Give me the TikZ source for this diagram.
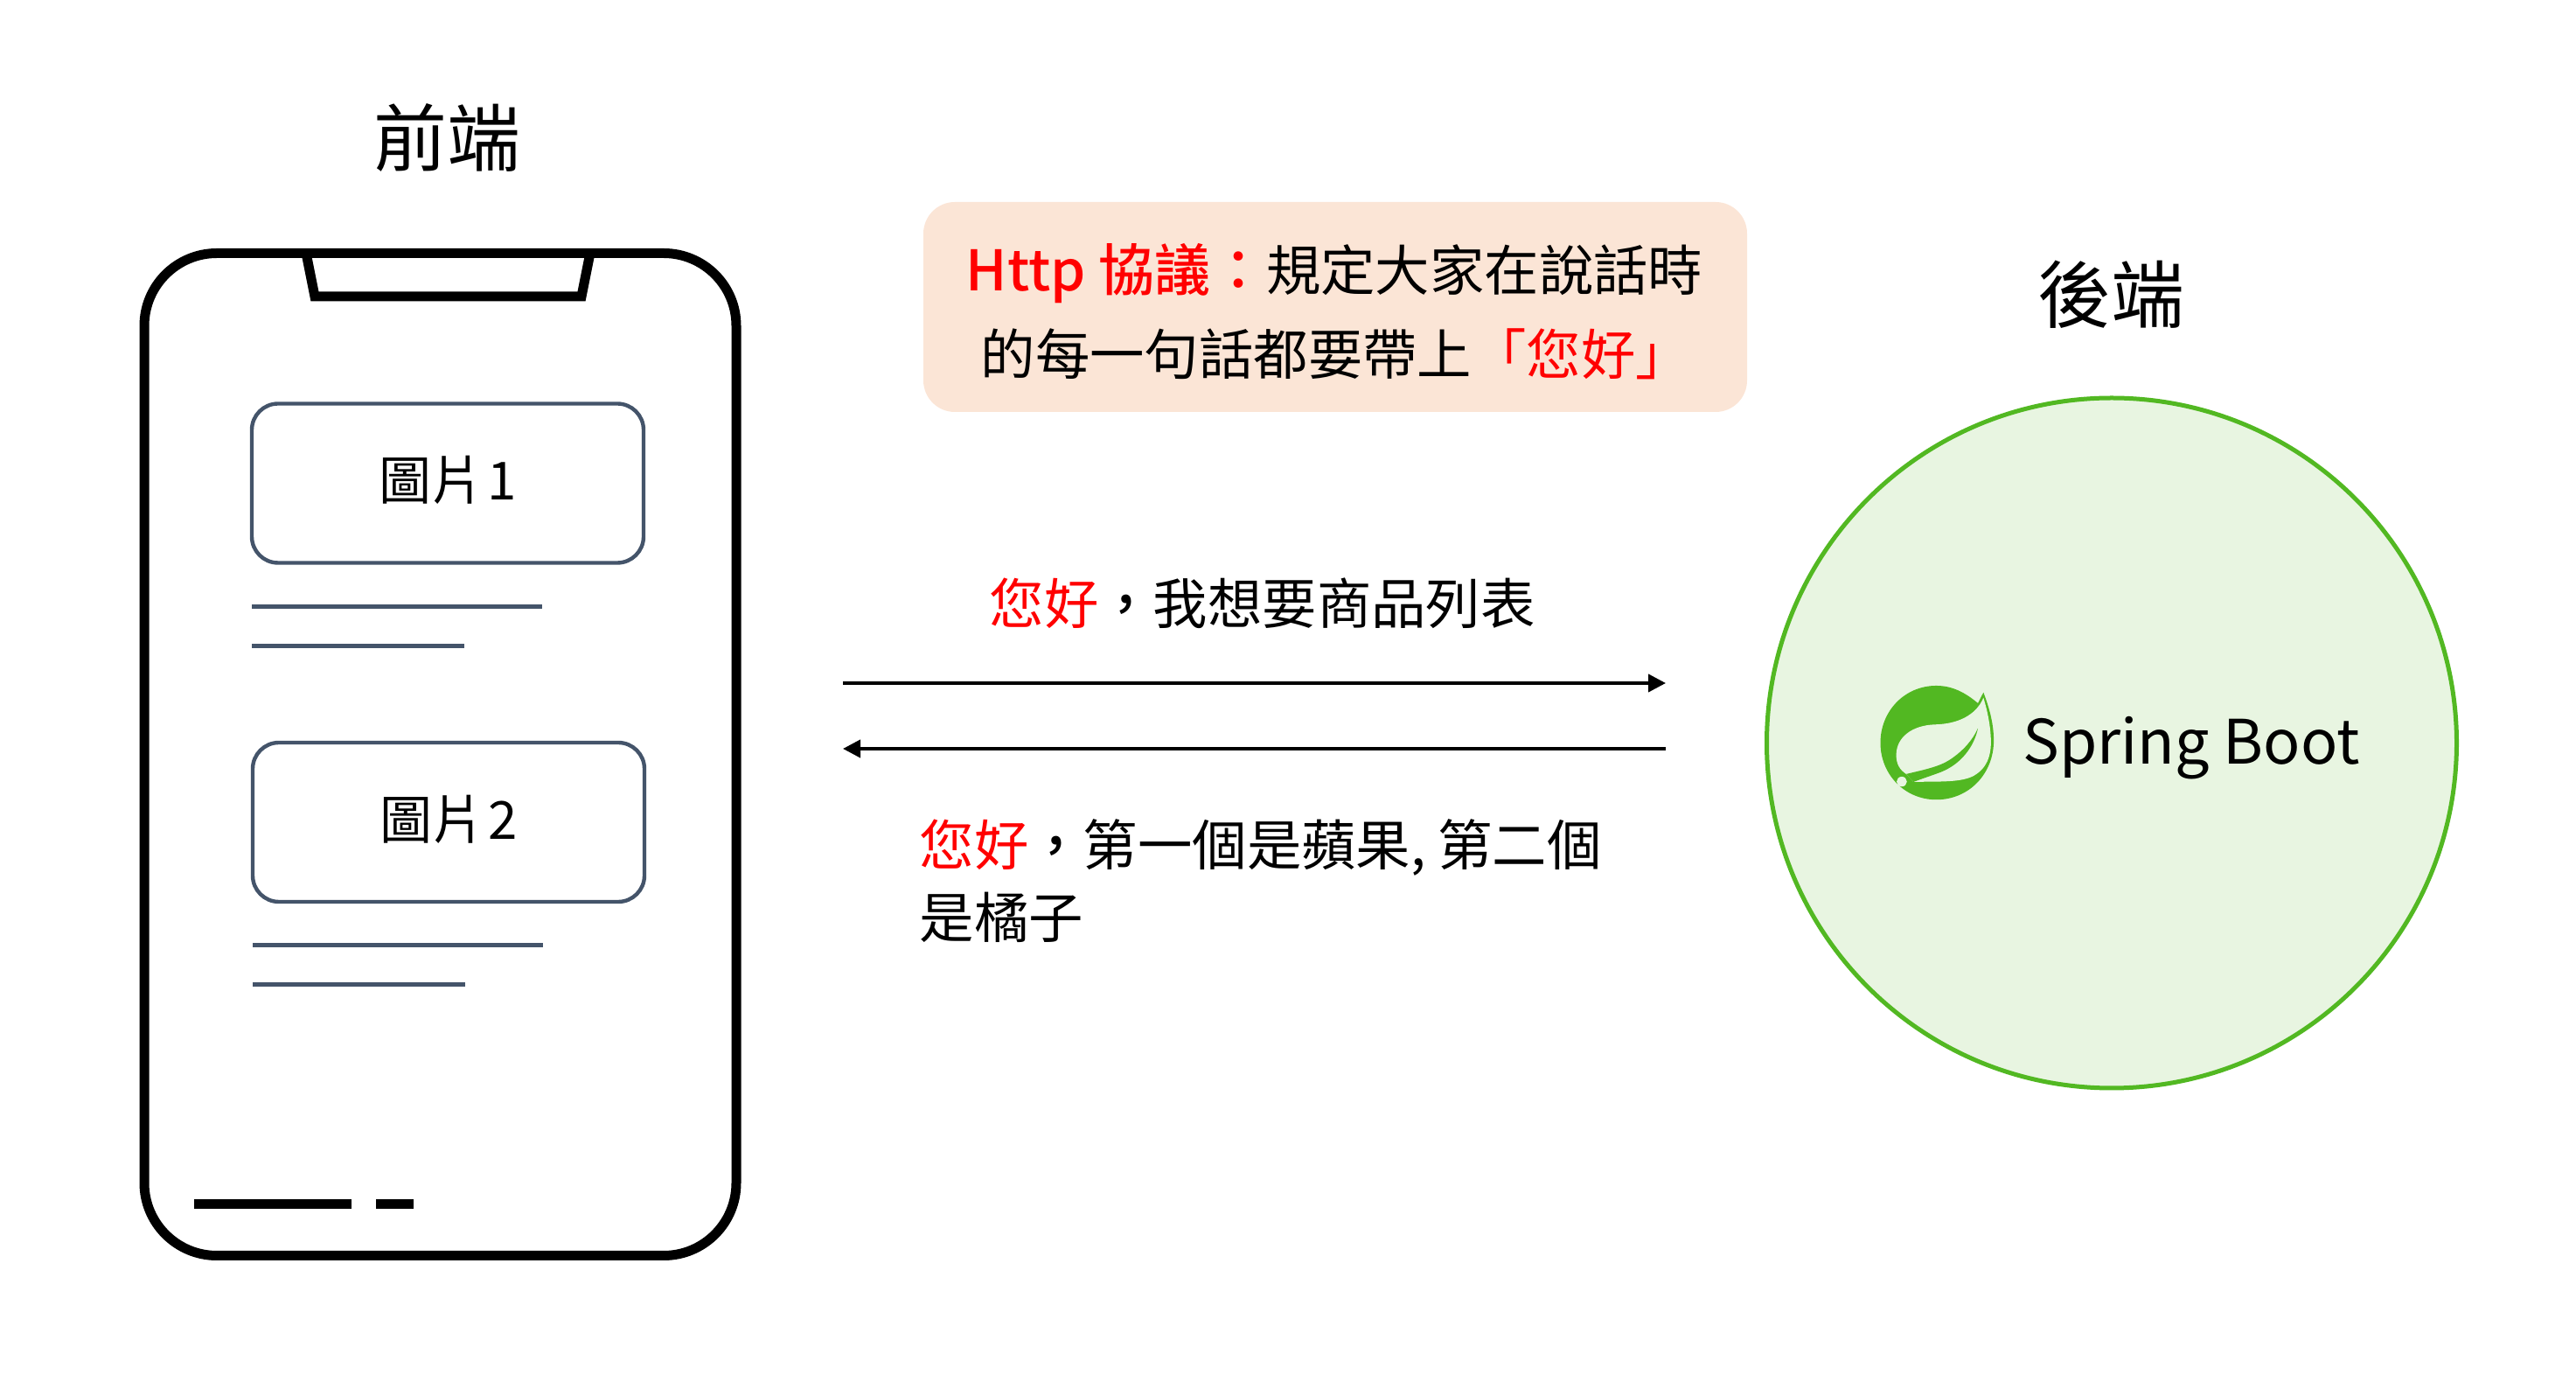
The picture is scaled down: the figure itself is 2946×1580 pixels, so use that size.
\documentclass[tikz,border=0pt]{standalone}
\usepackage{fontspec}
\setmainfont{Noto Sans CJK TC}
\newfontfamily\medfont{Noto Sans CJK TC Medium}
\usetikzlibrary{arrows.meta}
\definecolor{slate}{HTML}{44546A}
\definecolor{leafgreen}{HTML}{52B822}
\definecolor{circlefill}{HTML}{E8F5E1}
\definecolor{notefill}{HTML}{FBE5D6}
\newcommand{\hi}[1]{\textcolor{red}{#1}}
\newcommand{\fs}[1]{\fontsize{#1}{#1}\selectfont}
\begin{document}
\begin{tikzpicture}[x=0.25pt, y=-0.25pt, thick,
    card/.style = {draw=slate, line width=1.1pt, rounded corners=7.5pt, minimum width=112pt, minimum height=45.5pt, inner sep=0pt, text height=11pt, text depth=1.4pt, font=\fs{15pt}},
    textline/.style = {draw=slate, line width=1.25pt},
    phoneline/.style = {draw=black, line width=2.75pt},
    title/.style = {inner sep=0pt, font=\fs{21pt}},
    label/.style = {inner sep=0pt, font=\fs{15.6pt}},
    flow/.style = {draw=black, line width=1pt, -{Triangle[length=5pt,width=5pt]}}]
    \useasboundingbox (0,0) rectangle (2946,1580);
    \node[title] (front) at (511,157.5) {前端};
    \node[title] (back) at (2414,336.5) {後端};
    % phone
    \node[phoneline, minimum width=169.25pt, minimum height=286.5pt, inner sep=0pt, rounded corners=20.75pt] (phone) at (503.5,862.5) {};
    \draw[phoneline] (350,289) -- (360,339) -- (665,339) -- (675,289);
    \node[card] (img1) at (512,552.5) {圖片\kern1pt 1};
    \node[card] (img2) at (513,940) {圖片\kern1pt 2};
    \draw[textline] (288,693.5) -- (620,693.5);
    \draw[textline] (288,738.5) -- (531,738.5);
    \draw[textline] (289,1080.5) -- (621,1080.5);
    \draw[textline] (289,1125.5) -- (532,1125.5);
    \draw[phoneline] (222,1377) -- (402,1377);
    \draw[phoneline] (430,1377) -- (473,1377);
    % note
    \node[fill=notefill, rounded corners=9pt, minimum width=235.5pt, minimum height=60pt, inner sep=0pt] (note) at (1527,351) {};
    \node[label, anchor=base west, font=\fs{16pt}] (rule1) at (1103,333) {\hi{\medfont Http 協議：}\fs{15.6pt}規定大家在說話時};
    \node[label, anchor=base west] (rule2) at (1120,429) {的每一句話都要帶上\hi{「您好」}};
    % messages
    \coordinate (reqa) at (964,781);
    \coordinate (reqb) at (1905,781);
    \coordinate (resa) at (1905,856);
    \coordinate (resb) at (964,856);
    \path[flow] (reqa) -- (reqb);
    \path[flow] (resa) -- (resb);
    \node[label, anchor=base west] (req) at (1130,714) {\hi{您好}{\medfont ，}我想要商品列表};
    \node[label, anchor=base west] (res1) at (1050,990) {\hi{您好}{\medfont ，}第一個是蘋果, 第二個};
    \node[label, anchor=base west] (res2) at (1050,1073) {是橘子};
    % backend
    \node[circle, draw=leafgreen, fill=circlefill, line width=1.25pt, minimum size=197.25pt, inner sep=0pt] (server) at (2415,849.5) {};
    \node[anchor=base, inner sep=0pt, font=\fs{17.5pt}] (boot) at (2506,873.5) {Spring Boot};
    \begin{scope}[shift={(2100,730)}, x=0.1052pt, y=-0.0833pt]
        \fill[leafgreen] (385,222) .. controls (350,185) and (315,162) .. (272,162)
            .. controls (185,162) and (120,250) .. (120,358)
            .. controls (120,465) and (185,553) .. (272,553)
            .. controls (360,553) and (428,465) .. (428,350)
            .. controls (428,290) and (415,235) .. (400,185) -- cycle;
        \fill[circlefill] (400,203) .. controls (385,250) and (345,292) .. (270,295)
            .. controls (205,297) and (163,340) .. (163,400)
            .. controls (163,430) and (172,450) .. (190,465)
            -- (210,492) .. controls (280,490) and (340,495) .. (375,470)
            .. controls (415,440) and (422,390) .. (420,340)
            .. controls (418,290) and (410,245) .. (400,203) -- cycle;
        \fill[leafgreen] (190,465) .. controls (240,450) and (280,440) .. (310,415)
            .. controls (345,385) and (370,350) .. (385,308)
            .. controls (375,370) and (340,430) .. (285,458)
            .. controls (260,470) and (235,480) .. (210,492) -- cycle;
        \fill[circlefill] (178,491) ellipse (14 and 17);
    \end{scope}
\end{tikzpicture}
\end{document}
